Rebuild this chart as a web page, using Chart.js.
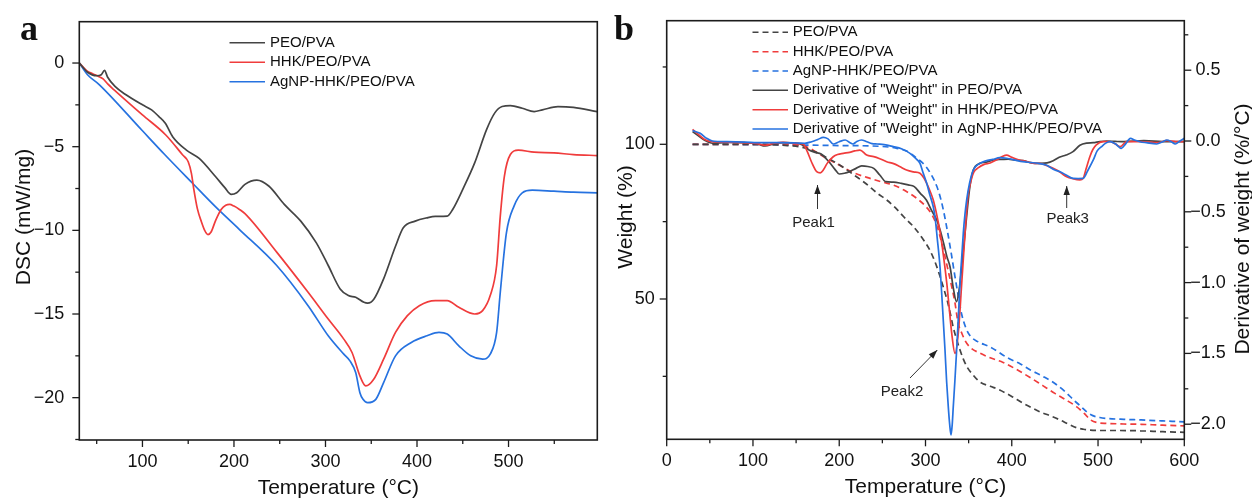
<!DOCTYPE html>
<html>
<head>
<meta charset="utf-8">
<script src="https://cdn.jsdelivr.net/npm/chart.js@4.4.1/dist/chart.umd.min.js"></script>
<style>
  html, body { margin: 0; padding: 0; background: #fff; }
  #wrap { position: relative; width: 1252px; height: 498px; overflow: hidden; }
  canvas { position: absolute; top: 0; }
  #cA { left: 0; }
  #cB { left: 600px; }
</style>
</head>
<body>
<div id="wrap">
  <canvas id="cA" width="610" height="498"></canvas>
  <canvas id="cB" width="652" height="498"></canvas>
</div>
<script>
// ---------- panel a : DSC ----------
const seriesNames = ["PEO/PVA", "HHK/PEO/PVA", "AgNP-HHK/PEO/PVA"];

const dscT_peo = [31, 40, 50, 55, 58.5, 62, 70, 82, 100, 110, 118, 125, 133, 148, 162, 180, 190, 197, 203, 212, 225, 238, 255, 273, 290, 303, 316, 325, 333, 342, 346, 353, 363.5, 376.5, 385, 398, 411, 420, 433, 439, 450, 463, 476, 485, 493, 502, 515, 528, 537, 554, 571, 597];
const dsc_peo = [0, -0.55, -0.76, -0.7, -0.44, -0.85, -1.4, -1.9, -2.5, -2.8, -3.2, -3.6, -4.4, -5.2, -5.7, -6.8, -7.45, -7.85, -7.75, -7.25, -7.0, -7.35, -8.45, -9.45, -10.75, -12.1, -13.5, -13.9, -14.0, -14.3, -14.35, -14.1, -12.9, -10.95, -9.85, -9.45, -9.25, -9.17, -9.15, -8.75, -7.55, -5.97, -3.98, -2.98, -2.6, -2.55, -2.7, -2.9, -2.8, -2.6, -2.65, -2.9];

const dscT_hhk = [31, 39, 46, 52, 57, 62, 69, 100, 125.5, 144, 150, 153.5, 156, 160, 164.5, 168, 171.6, 175, 180, 186, 191, 195.3, 200, 206, 212, 246.7, 281, 303, 320, 329, 337.6, 344, 352.7, 363.5, 376.5, 389.5, 402.5, 420, 433, 445.7, 463, 471.7, 480, 487, 491, 495.5, 502, 510.6, 528, 549.6, 571, 597];
const dsc_hhk = [0, -0.45, -0.65, -0.8, -0.95, -1.25, -1.6, -3.1, -4.3, -5.5, -5.9, -6.6, -7.5, -8.7, -9.5, -10.0, -10.25, -10.1, -9.4, -8.75, -8.5, -8.45, -8.55, -8.75, -9.0, -11.3, -13.7, -15.3, -16.5, -17.3, -18.7, -19.3, -18.9, -17.7, -16.1, -15.1, -14.5, -14.2, -14.2, -14.6, -15.0, -14.8, -13.9, -12.1, -9.15, -6.76, -5.47, -5.21, -5.33, -5.37, -5.47, -5.53];

const dscT_ag = [31, 40, 53, 100, 124, 155, 180, 206, 246.7, 281, 303, 320, 326.7, 333, 337.6, 341, 346, 355, 363.5, 376.5, 393.8, 411, 424, 433, 445.7, 458.7, 471.7, 480, 487, 491, 497.7, 506, 515, 526, 549.6, 571, 597];
const dsc_ag = [0, -0.7, -1.3, -4.05, -5.45, -7.2, -8.6, -9.95, -12.1, -14.5, -16.3, -17.4, -17.8, -18.5, -19.7, -20.1, -20.3, -20.1, -19.1, -17.5, -16.7, -16.3, -16.1, -16.2, -16.9, -17.5, -17.7, -17.4, -16.1, -13.7, -10.15, -8.55, -7.76, -7.6, -7.66, -7.72, -7.76];

const aXTicks = [100, 200, 300, 400, 500];
const aYTicks = [-20, -15, -10, -5, 0];

// ---------- panel b : TGA / DTG ----------
const wT_peo = [30, 80, 140, 160, 175, 190, 200, 215, 230, 245, 255, 265, 275, 286, 296, 305, 311, 317, 321, 325, 329, 332, 336, 340, 344, 348, 355, 363, 375, 386, 400, 412, 422, 433, 445, 456, 466, 475, 483, 491, 505, 520, 549, 575, 600];
const w_peo = [100, 100, 99.6, 98.8, 97.2, 95, 93.4, 90.5, 87.5, 84, 82, 79.5, 76.5, 73.4, 69.8, 65.8, 62, 57.2, 53.5, 49.7, 45, 41, 37, 33.5, 30.5, 28.1, 25.5, 23.2, 21.8, 20.6, 18.5, 16.5, 15, 13.5, 12.2, 10.9, 9.5, 8.4, 7.9, 7.6, 7.5, 7.5, 7.4, 7.1, 6.9];

const wT_hhk = [30, 100, 155, 165, 175, 185, 200, 215, 232, 250, 263, 275, 290, 300, 308, 314, 318, 322, 326, 330, 334, 338, 342, 346, 352, 363, 375, 390, 405, 422, 436, 450, 462, 475, 484, 491, 500, 510, 530, 550, 575, 600];
const w_hhk = [100, 100, 99.7, 98.8, 97.2, 95.5, 93.3, 91, 89.3, 87.8, 86.8, 85.2, 82.5, 80, 77, 73, 69, 64.5, 59.5, 54.5, 49, 42, 39, 36.5, 34.3, 32.5, 31, 29.5, 27.3, 24.5, 22, 19.5, 17.5, 15.2, 13, 11, 10, 9.8, 9.6, 9.5, 9.2, 9.0];

const wT_ag = [30, 100, 200, 250, 265, 278, 290, 300, 307, 313, 318, 322, 326, 330, 334, 338, 342, 347, 352, 360, 375, 395, 410, 422, 436, 450, 462, 472, 480, 487, 494, 502, 510, 530, 550, 575, 600];
const w_ag = [100, 99.9, 99.6, 99.3, 98.8, 97.8, 95.5, 93, 90, 86.5, 82, 77, 71, 64.5, 57.5, 51, 45, 40.5, 38, 36.3, 34.5, 31, 29, 27, 25, 22.7, 20, 17.3, 15.3, 13.5, 12.3, 11.7, 11.4, 11.1, 10.9, 10.6, 10.3];

const dT_peo = [30, 36, 44, 53, 70, 90, 105, 114, 125, 135, 150, 158, 165, 172, 179, 188, 195, 200, 206, 212, 219, 226, 233, 240, 247, 254, 263, 272, 280, 287, 294, 301, 307, 313, 317, 321, 325, 328.5, 332, 336, 339, 342, 345.8, 349.6, 352, 355.4, 363, 370, 378.6, 389, 396, 404, 413, 420, 427, 433, 441, 448, 455, 463, 471, 479, 487, 494.5, 502, 510, 520, 530, 553, 575, 600];
const d_peo = [0.066, 0.04, 0.005, -0.016, -0.01, -0.012, -0.02, -0.035, -0.018, -0.012, -0.014, -0.03, -0.064, -0.08, -0.092, -0.146, -0.2, -0.233, -0.228, -0.216, -0.195, -0.176, -0.18, -0.193, -0.24, -0.287, -0.29, -0.299, -0.31, -0.322, -0.37, -0.417, -0.49, -0.558, -0.63, -0.722, -0.82, -0.89, -1.03, -1.135, -1.05, -0.888, -0.652, -0.417, -0.3, -0.205, -0.158, -0.15, -0.134, -0.13, -0.128, -0.136, -0.139, -0.15, -0.158, -0.158, -0.155, -0.14, -0.115, -0.099, -0.075, -0.03, -0.015, -0.012, -0.004, 0, -0.003, -0.005, 0.002, -0.004, -0.005];

const dT_hhk = [30, 36, 44, 52, 70, 90, 105, 114, 125, 135, 150, 158, 163, 168, 173.9, 178, 181.5, 186, 193, 198, 204.7, 212, 218, 224, 231.8, 240, 247, 255, 263, 270, 278, 286, 293.6, 298, 301.4, 305, 309, 313, 316.8, 320.6, 324.6, 327.5, 330.4, 334.2, 338, 342, 345.8, 349, 352, 356, 361, 368, 375, 382, 389, 394, 400, 406, 412.6, 420, 426, 433, 441, 452, 458, 463.7, 470, 479, 482.8, 486, 490.5, 494, 498, 506, 514, 520, 525.5, 533, 548.6, 560, 568, 579.7, 590, 600];
const d_hhk = [0.082, 0.05, 0.01, -0.005, -0.008, -0.012, -0.018, -0.03, -0.015, -0.01, -0.016, -0.02, -0.075, -0.15, -0.217, -0.225, -0.205, -0.158, -0.111, -0.095, -0.087, -0.08, -0.07, -0.064, -0.099, -0.11, -0.125, -0.146, -0.16, -0.18, -0.205, -0.218, -0.228, -0.26, -0.299, -0.35, -0.417, -0.52, -0.64, -0.8, -1.0, -1.18, -1.358, -1.5, -1.358, -1.005, -0.652, -0.4, -0.3, -0.22, -0.19, -0.165, -0.155, -0.135, -0.11, -0.1, -0.115, -0.13, -0.139, -0.15, -0.158, -0.158, -0.175, -0.205, -0.23, -0.252, -0.265, -0.275, -0.264, -0.2, -0.111, -0.06, -0.028, -0.005, -0.005, -0.02, -0.04, -0.005, -0.005, -0.008, -0.012, 0.002, -0.004, -0.005];

const dT_ag = [30, 38.8, 46, 53, 70, 90, 110, 132, 150, 160, 168, 175, 181.5, 187, 193, 200, 207, 212, 216, 220, 225.7, 232, 238, 244, 252, 262.7, 272, 282, 288, 293.6, 297, 301.4, 305, 309, 311, 313.5, 316.8, 319.5, 322.6, 324.5, 326.4, 328, 329.6, 331, 332.2, 334, 336.1, 338, 340, 342, 343.8, 345.7, 347.7, 351, 355.4, 363, 370, 378, 386, 394, 404, 412.6, 422, 431, 440, 450, 456, 463, 471.3, 477, 482.8, 488, 494.5, 499, 504, 509, 514, 520, 527, 532, 537.5, 543, 548.6, 556, 568, 575, 579.7, 585, 589.5, 595, 600];
const d_ag = [0.073, 0.054, 0.02, 0, -0.005, -0.008, -0.012, -0.012, -0.014, -0.016, -0.005, 0.01, 0.026, 0.015, -0.021, -0.005, 0.007, -0.01, -0.021, -0.005, 0.007, -0.005, -0.018, -0.021, -0.025, -0.04, -0.055, -0.087, -0.12, -0.158, -0.22, -0.299, -0.38, -0.464, -0.535, -0.68, -0.888, -1.15, -1.476, -1.7, -1.876, -2.0, -2.076, -2.0, -1.876, -1.7, -1.476, -1.25, -1.005, -0.82, -0.652, -0.52, -0.417, -0.3, -0.205, -0.158, -0.14, -0.13, -0.118, -0.122, -0.135, -0.146, -0.152, -0.158, -0.17, -0.205, -0.217, -0.24, -0.264, -0.265, -0.264, -0.21, -0.134, -0.07, -0.04, -0.015, -0.005, -0.02, -0.052, -0.02, 0.019, 0.005, -0.005, -0.012, -0.021, -0.005, 0.007, -0.005, -0.021, 0, 0.019];

const bXTicks = [0, 100, 200, 300, 400, 500, 600];
const bYTicks = [50, 100];
const bY1Ticks = [-2.0, -1.5, -1.0, -0.5, 0.0, 0.5];
const bLegend = ["PEO/PVA", "HHK/PEO/PVA", "AgNP-HHK/PEO/PVA",
  'Derivative of "Weight" in PEO/PVA', 'Derivative of "Weight" in HHK/PEO/PVA', 'Derivative of "Weight" in AgNP-HHK/PEO/PVA'];

// ---------- styling ----------
const C_BLACK = "#444444", C_RED = "#f03c3c", C_BLUE = "#2672e0";
const TXT = "#111";
const SANS = "'Liberation Sans', Arial, sans-serif";
Chart.defaults.font.family = SANS;
Chart.defaults.color = TXT;

const pts = (xs, ys) => xs.map((x, i) => ({ x: x, y: ys[i] }));
const minus = (s) => s.replace("-", "\u2212");

// ticks every `step` between min and max (minor ones get an empty label)
function tickBuilder(step) {
  return (scale) => {
    const out = [];
    const start = Math.ceil((scale.min - 1e-9) / step);
    const end = Math.floor((scale.max + 1e-9) / step);
    for (let k = start; k <= end; k++) out.push({ value: +(k * step).toFixed(4) });
    scale.ticks = out;
  };
}
const isMajor = (v, majors) => majors.some((m) => Math.abs(m - v) < 1e-6);

function drawTicks(ctx, scale, side, a) {
  scale.ticks.forEach((t) => {
    const len = t.label ? 7 : 4;
    const p = scale.getPixelForValue(t.value);
    ctx.beginPath();
    if (side === "bottom") { ctx.moveTo(p, a.bottom); ctx.lineTo(p, a.bottom + len); }
    else if (side === "left") { ctx.moveTo(a.left, p); ctx.lineTo(a.left - len, p); }
    else { ctx.moveTo(a.right, p); ctx.lineTo(a.right + len, p); }
    ctx.stroke();
  });
}

function rotText(ctx, txt, x, y) {
  ctx.save();
  ctx.translate(x, y);
  ctx.rotate(-Math.PI / 2);
  ctx.textAlign = "center";
  ctx.textBaseline = "alphabetic";
  ctx.fillText(txt, 0, 0);
  ctx.restore();
}

function arrow(ctx, x1, y1, x2, y2) {
  ctx.beginPath(); ctx.moveTo(x1, y1); ctx.lineTo(x2, y2); ctx.stroke();
  const ang = Math.atan2(y2 - y1, x2 - x1), L = 9, W = 3.2;
  ctx.beginPath();
  ctx.moveTo(x2, y2);
  ctx.lineTo(x2 - L * Math.cos(ang) + W * Math.sin(ang), y2 - L * Math.sin(ang) - W * Math.cos(ang));
  ctx.lineTo(x2 - L * Math.cos(ang) - W * Math.sin(ang), y2 - L * Math.sin(ang) + W * Math.cos(ang));
  ctx.closePath(); ctx.fill();
}

// decorations: frame, tick marks, titles, legend, annotations
function deco(cfg) {
  return {
    id: "deco",
    afterDatasetsDraw(chart) {
      const ctx = chart.ctx, a = chart.chartArea, ox = cfg.ox;
      ctx.save();
      ctx.setLineDash([]);
      ctx.strokeStyle = "#1c1c1c";
      ctx.lineWidth = 1.6;
      ctx.strokeRect(a.left, a.top, a.right - a.left, a.bottom - a.top);
      ctx.lineWidth = 1.3;
      drawTicks(ctx, chart.scales.x, "bottom", a);
      drawTicks(ctx, chart.scales.y, "left", a);
      if (chart.scales.y1) drawTicks(ctx, chart.scales.y1, "right", a);

      ctx.fillStyle = TXT;
      // panel letter
      ctx.font = "bold 36px 'Liberation Serif', 'Times New Roman', serif";
      ctx.textAlign = "left"; ctx.textBaseline = "alphabetic";
      ctx.fillText(cfg.letter[0], cfg.letter[1] - ox, cfg.letter[2]);
      // axis titles
      ctx.font = "21px " + SANS;
      ctx.textAlign = "center";
      ctx.fillText("Temperature (\u00B0C)", (a.left + a.right) / 2, cfg.xTitleY);
      cfg.yTitles.forEach((t) => rotText(ctx, t[0], t[1] - ox, t[2]));
      // legend
      ctx.font = "15px " + SANS;
      ctx.textAlign = "left"; ctx.textBaseline = "middle";
      ctx.lineWidth = 1.6;
      cfg.legend.forEach((it, i) => {
        const y = cfg.legY[i];
        ctx.strokeStyle = it.color;
        ctx.setLineDash(it.dash || []);
        ctx.beginPath(); ctx.moveTo(cfg.legX[0] - ox, y); ctx.lineTo(cfg.legX[1] - ox, y); ctx.stroke();
        ctx.fillStyle = TXT;
        ctx.fillText(it.label, cfg.legX[2] - ox, y);
      });
      ctx.setLineDash([]);
      // annotations
      if (cfg.notes) {
        ctx.font = "15px " + SANS;
        ctx.textAlign = "center"; ctx.textBaseline = "middle";
        ctx.strokeStyle = "#333"; ctx.fillStyle = "#222"; ctx.lineWidth = 1;
        cfg.notes.forEach((n) => {
          ctx.fillText(n.text, n.tx - ox, n.ty);
          arrow(ctx, n.a[0] - ox, n.a[1], n.a[2] - ox, n.a[3]);
        });
      }
      ctx.restore();
    }
  };
}

const lineDs = (label, data, color, extra) => Object.assign({
  label: label, data: data, borderColor: color, borderWidth: 1.7,
  pointRadius: 0, fill: false, cubicInterpolationMode: "monotone"
}, extra || {});

const tickFont = { size: 18, family: SANS };
const gridOpt = (len) => ({ display: true, drawOnChartArea: false, drawTicks: true, tickLength: len, tickColor: "rgba(0,0,0,0)" });

// ---------- chart a ----------
new Chart(document.getElementById("cA"), {
  type: "line",
  data: {
    datasets: [
      lineDs(seriesNames[0], pts(dscT_peo, dsc_peo), C_BLACK),
      lineDs(seriesNames[1], pts(dscT_hhk, dsc_hhk), C_RED),
      lineDs(seriesNames[2], pts(dscT_ag, dsc_ag), C_BLUE)
    ]
  },
  options: {
    responsive: false, animation: false, devicePixelRatio: 1,
    layout: { padding: { left: 0, top: 21.7, right: 12.7, bottom: 0 } },
    plugins: { legend: { display: false }, tooltip: { enabled: false } },
    scales: {
      x: {
        type: "linear", min: 31, max: 597,
        afterBuildTicks: tickBuilder(50),
        afterFit: (s) => { s.height = 58; },
        grid: gridOpt(7), border: { display: false },
        ticks: { font: tickFont, padding: 4, autoSkip: false, maxRotation: 0,
          callback: (v) => isMajor(v, aXTicks) ? String(v) : "" }
      },
      y: {
        min: -22.53, max: 2.47,
        afterBuildTicks: tickBuilder(2.5),
        afterFit: (s) => { s.width = 79.3; },
        grid: gridOpt(7), border: { display: false },
        ticks: { font: tickFont, padding: 8, autoSkip: false,
          callback: (v) => isMajor(v, aYTicks) ? minus(String(v)) : "" }
      }
    }
  },
  plugins: [deco({
    ox: 0, letter: ["a", 20, 40], xTitleY: 494,
    yTitles: [["DSC (mW/mg)", 30, 217]],
    legX: [229.5, 265, 270], legY: [42.7, 62.3, 81.7],
    legend: [
      { label: seriesNames[0], color: C_BLACK },
      { label: seriesNames[1], color: C_RED },
      { label: seriesNames[2], color: C_BLUE }
    ]
  })]
});

// ---------- chart b ----------
const DASH = [6, 4];
new Chart(document.getElementById("cB"), {
  type: "line",
  data: {
    datasets: [
      lineDs(bLegend[5], pts(dT_ag, d_ag), C_BLUE, { yAxisID: "y1" }),
      lineDs(bLegend[4], pts(dT_hhk, d_hhk), C_RED, { yAxisID: "y1" }),
      lineDs(bLegend[3], pts(dT_peo, d_peo), C_BLACK, { yAxisID: "y1" }),
      lineDs(bLegend[0], pts(wT_peo, w_peo), C_BLACK, { yAxisID: "y", borderDash: DASH }),
      lineDs(bLegend[1], pts(wT_hhk, w_hhk), C_RED, { yAxisID: "y", borderDash: DASH }),
      lineDs(bLegend[2], pts(wT_ag, w_ag), C_BLUE, { yAxisID: "y", borderDash: DASH })
    ]
  },
  options: {
    responsive: false, animation: false, devicePixelRatio: 1,
    layout: { padding: { left: 0, top: 20.7, right: 0, bottom: 0 } },
    plugins: { legend: { display: false }, tooltip: { enabled: false } },
    scales: {
      x: {
        type: "linear", min: 0, max: 600,
        afterBuildTicks: tickBuilder(50),
        afterFit: (s) => { s.height = 58.7; },
        grid: gridOpt(7), border: { display: false },
        ticks: { font: tickFont, padding: 4, autoSkip: false, maxRotation: 0,
          callback: (v) => isMajor(v, bXTicks) ? String(v) : "" }
      },
      y: {
        position: "left", min: 4.65, max: 139.95,
        afterBuildTicks: tickBuilder(25),
        afterFit: (s) => { s.width = 66.7; },
        grid: gridOpt(7), border: { display: false },
        ticks: { font: tickFont, padding: 5, autoSkip: false,
          callback: (v) => isMajor(v, bYTicks) ? String(v) : "" }
      },
      y1: {
        position: "right", min: -2.1066, max: 0.8496,
        afterBuildTicks: tickBuilder(0.25),
        afterFit: (s) => { s.width = 67.7; },
        grid: gridOpt(3), border: { display: false },
        ticks: { font: tickFont, padding: 3, autoSkip: false, crossAlign: "center",
          callback: (v) => isMajor(v, bY1Ticks) ? minus(v.toFixed(1)) : "" }
      }
    }
  },
  plugins: [deco({
    ox: 600, letter: ["b", 614, 40], xTitleY: 493,
    yTitles: [["Weight (%)", 632, 217], ["Derivative of weight (%/\u00B0C)", 1249, 229]],
    legX: [752.5, 788, 792.7], legY: [32.3, 51.7, 71, 90.3, 109.7, 129],
    legend: [
      { label: bLegend[0], color: C_BLACK, dash: DASH },
      { label: bLegend[1], color: C_RED, dash: DASH },
      { label: bLegend[2], color: C_BLUE, dash: DASH },
      { label: bLegend[3], color: C_BLACK },
      { label: bLegend[4], color: C_RED },
      { label: bLegend[5], color: C_BLUE }
    ],
    notes: [
      { text: "Peak1", tx: 813.5, ty: 223.3, a: [817.5, 209, 817.5, 185] },
      { text: "Peak2", tx: 902, ty: 391.7, a: [910, 378, 937.3, 350] },
      { text: "Peak3", tx: 1067.7, ty: 219.3, a: [1066.7, 208, 1066.7, 186] }
    ]
  })]
});
</script>
</body>
</html>
